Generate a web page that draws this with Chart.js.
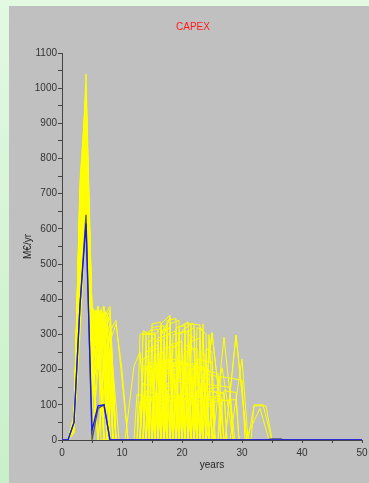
<!DOCTYPE html>
<html>
<head>
<meta charset="utf-8">
<script src="https://cdn.jsdelivr.net/npm/chart.js@4.4.0/dist/chart.umd.min.js"></script>
<style>
  html, body { margin: 0; padding: 0; width: 369px; height: 483px; overflow: hidden; }
  body { background: linear-gradient(#e2f9e2, #c8f0c8); position: relative; }
  #panel { position: absolute; left: 9px; top: 6px; width: 368px; height: 477px; background: #c0c0c0; }
  canvas { display: block; }
</style>
</head>
<body>
<div id="panel"><canvas id="capexChart" width="368" height="477"></canvas></div>
<script>
// Base case (blue) and median (dark) CAPEX profiles
const baseYears = [0, 1, 2, 3, 4, 5, 6, 7, 8, 50];
const baseCapex = [0, 0, 50, 383, 615, 27, 97, 100, 0, 0];
const medianYears = [0, 1, 2, 3, 4, 5, 6, 7, 8, 34, 35, 36.5, 37, 50];
const medianCapex = [0, 0, 50, 383, 640, 0, 90, 100, 0, 0, 3, 3, 0, 0];

// Scenario runs (yellow), [year, M€/yr]
const scenarioRuns = [
    [[0,0],[1,0],[2,50],[3,620],[4,1040],[5,360],[5.5,300],[6,340],[7,310],[7.5,0],[13,0],[13.5,300],[15.5,305],[16,0],[17,0],[17.5,120],[19.5,125],[20,0],[23,0],[25,305],[27,0]],
    [[0,0],[1,0],[2,40],[3,740],[4,980],[5,300],[6,370],[6.5,250],[7.5,330],[8.5,0],[14,0],[14.5,210],[17,215],[17.5,0],[19,0],[19.5,320],[21,336],[22,0]],
    [[0,0],[1,0],[2,60],[3,560],[4,940],[5,250],[6,0],[7,200],[8,310],[9,340],[11,0],[15,0],[15.5,120],[18,115],[18.5,0],[20,0],[20.5,210],[22.5,220],[23,0],[27.2,0],[29,298],[30.8,0]],
    [[0,0],[1,0],[2,30],[3,480],[4,900],[5,380],[5.5,360],[6,280],[7,0],[10.5,0],[12,210],[13,250],[14,0],[16,0],[16.5,330],[18,355],[18.5,0],[21,0],[21.5,130],[24,120],[24.5,0]],
    [[0,0],[1,0],[2,50],[3,700],[4,870],[5,200],[6,360],[7,380],[7.5,300],[8,0],[13.5,0],[14,140],[16,130],[16.5,0],[17,0],[17.5,220],[20,200],[20.5,0],[25.2,0],[27,292],[28.8,0]],
    [[0,0],[1,0],[2,40],[3,420],[4,820],[5,340],[5.5,370],[6.5,290],[7,350],[8,0],[12.5,0],[13,110],[15,115],[15.5,0],[18,0],[18.5,300],[21,310],[21.5,0],[22,0],[22.5,140],[26,150],[26.5,0]],
    [[0,0],[1,0],[2,70],[3,650],[4,800],[5,120],[6,300],[7,330],[8,250],[9,0],[14.5,0],[15,320],[17,325],[17.5,0],[18,0],[18.5,110],[22,120],[22.5,0]],
    [[0,0],[1,0],[2,50],[3,380],[4,760],[5,300],[6,200],[7,280],[8,360],[8.5,0],[13,0],[13.5,200],[15,210],[15.5,0],[16,0],[16.5,220],[19,230],[19.5,0],[23,0],[23.5,330],[24,0]],
    [[0,0],[1,0],[2,30],[3,530],[4,730],[5,260],[6,340],[7,0],[15,0],[15.5,300],[16.5,320],[17,0],[19.5,0],[20,130],[23.5,125],[24,0],[31,0],[32,97],[34,97],[35,0]],
    [[0,0],[1,0],[2,60],[3,600],[4,700],[5,0],[6,250],[7,370],[8,0],[14,0],[14.5,120],[17,110],[17.5,0],[20,0],[20.5,300],[22,320],[22.5,0],[24,0],[26.7,205],[28.5,0]],
    [[0,0],[1,0],[2,50],[3,350],[4,680],[5,350],[6,310],[7,220],[7.5,330],[9,0],[16,0],[16.5,210],[19,200],[19.5,0],[21,0],[21.5,110],[25,115],[25.5,0]],
    [[0,0],[1,0],[2,40],[3,460],[4,660],[5,280],[5.5,320],[6.5,370],[7.5,0],[13.5,0],[14,300],[15.5,300],[16,0],[17,0],[17.5,340],[19,345],[19.5,0],[22.5,0],[23,200],[26,190],[26.5,0]],
    [[0,0],[1,0],[2,20],[3,300],[4,640],[5,200],[6,0],[7,150],[8,300],[9.5,0],[15.5,0],[16,120],[20,125],[20.5,0],[21,0],[21.5,330],[23,327],[23.5,0]],
    [[0,0],[1,0],[2,50],[3,710],[4,920],[5,320],[6,380],[7,260],[8,0],[14,0],[14.5,220],[16.5,215],[17,0],[18.5,0],[19,110],[21,115],[21.5,0],[23,0],[23.5,160],[28,150],[28.5,0]],
    [[0,0],[1,0],[2,60],[3,500],[4,850],[5,150],[6,280],[7,340],[8,300],[9,0],[12,0],[12.5,130],[14.5,120],[15,0],[16.5,0],[17,300],[18,350],[18.5,0],[20,0],[20.5,220],[22,210],[22.5,0]],
    [[0,0],[1,0],[2,40],[3,580],[4,990],[5,370],[6,330],[6.5,0],[15,0],[15.5,210],[18,220],[18.5,0],[19,0],[19.5,120],[22.5,115],[23,0],[30.5,0],[33,90],[34.5,0]],
    [[0,0],[1,0],[2,30],[3,440],[4,780],[5,90],[6,320],[7,370],[8,340],[9,0],[13,0],[13.5,310],[15,300],[15.5,0],[16.5,0],[17,130],[19,125],[19.5,0],[20.5,0],[21,200],[24,205],[24.5,0]],
    [[0,0],[1,0],[2,50],[3,660],[4,720],[5,310],[6,250],[7,0],[14,0],[14.5,110],[16,120],[16.5,0],[18,0],[18.5,210],[21,215],[21.5,0],[22,0],[22.5,320],[23.5,310],[24,0]],
    [[0,0],[1,0],[2,40],[3,390],[4,890],[5,240],[6,350],[7,290],[7.5,0],[16,0],[16.5,310],[18,320],[18.5,0],[19,0],[19.5,220],[21.5,210],[22,0],[24.5,0],[25,120],[28,110],[28.5,0]],
    [[0,0],[1,0],[2,70],[3,720],[4,1000],[5,180],[6,360],[7.5,320],[8.5,0],[13.5,0],[14,200],[16,195],[16.5,0],[17.5,0],[18,330],[19.5,340],[20,0],[21,0],[21.5,110],[25,100],[25.5,0]],
    [[0,0],[1,0],[2,50],[3,510],[4,830],[5,300],[5.5,250],[6.5,330],[7,0],[15,0],[15.5,130],[17.5,140],[18,0],[19,0],[19.5,300],[20.5,310],[21,0],[23,0],[25,305],[27,0]],
    [[0,0],[1,0],[2,30],[3,620],[4,750],[5,360],[6,300],[7,360],[7.5,0],[12.5,0],[13,300],[14,305],[14.5,0],[16.5,0],[17,210],[20,220],[20.5,0],[21.5,0],[22,120],[26.5,125],[27,0]],
    [[0,0],[1,0],[2,60],[3,340],[4,690],[5,220],[6,270],[7,310],[8,0],[14.5,0],[15,330],[16.5,335],[17,0],[18,0],[18.5,115],[21,120],[21.5,0],[22,0],[22.5,230],[25,220],[25.5,0]],
    [[0,0],[1,0],[2,40],[3,470],[4,950],[5,340],[6,370],[7,0],[16,0],[16.5,200],[18.5,205],[19,0],[20,0],[20.5,330],[22,330],[22.5,0],[25,0],[25.5,110],[29,115],[29.5,0]],
    [[0,0],[1,0],[2,50],[3,690],[4,860],[5,270],[6,320],[7,280],[8,330],[8.5,0],[13,0],[13.5,120],[16,125],[16.5,0],[17,0],[17.5,300],[19,310],[19.5,0],[21,0],[21.5,200],[23.5,210],[24,0]],
    [[0,0],[1,0],[2,40],[3,550],[4,810],[5,0],[6,200],[7,350],[8,380],[9,0],[14,0],[14.5,310],[16,315],[16.5,0],[18.5,0],[19,120],[22,115],[22.5,0],[26,0],[26.5,180],[30,170],[30.5,0]],
    [[0,0],[1,0],[2,60],[3,410],[4,740],[5,330],[6,290],[6.5,370],[7.5,0],[15.5,0],[16,220],[18,230],[18.5,0],[19.5,0],[20,310],[21.5,330],[22,0],[24,0],[24.5,300],[25.5,0]],
    [[0,0],[1,0],[2,30],[3,600],[4,910],[5,210],[6,340],[7,0],[13.5,0],[14,115],[17,120],[17.5,0],[18,0],[18.5,220],[20.5,225],[21,0],[22,0],[22.5,140],[27,135],[27.5,0]],
    [[0,0],[1,0],[2,50],[3,520],[4,780],[5,380],[5.5,350],[6.5,300],[7.5,320],[8,0],[16,0],[16.5,300],[17.5,330],[18,0],[20,0],[20.5,120],[24,130],[24.5,0],[27.2,0],[29,298],[30.8,0]],
    [[0,0],[1,0],[2,40],[3,680],[4,960],[5,290],[6,360],[7,300],[7.5,0],[14.5,0],[15,200],[17,210],[17.5,0],[18.5,0],[19,320],[20.5,325],[21,0],[21.5,0],[22,210],[24.5,200],[25,0]],
    [[0,0],[1,0],[2,20],[3,360],[4,700],[5,130],[6,240],[7,310],[8,280],[9,330],[10,200],[11,0],[17,0],[17.5,110],[20,120],[20.5,0],[22.5,0],[23,320],[24,300],[24.5,0]],
    [[0,0],[1,0],[2,60],[3,570],[4,880],[5,350],[6,280],[7,0],[13,0],[13.5,210],[15,205],[15.5,0],[16,0],[16.5,300],[18,320],[18.5,0],[19,0],[19.5,130],[23,135],[23.5,0],[31.5,0],[32,100],[33.5,100],[35,0]],
    [[0,0],[1,0],[2,50],[3,640],[4,1010],[5,330],[6,350],[7,300],[8,0],[13.5,0],[14,250],[16,260],[16.5,0],[17,0],[17.5,160],[20,170],[20.5,0],[21,0],[21.5,280],[23,290],[23.5,0]],
    [[0,0],[1,0],[2,40],[3,490],[4,870],[5,260],[6,320],[7.5,360],[8,0],[14,0],[14.5,170],[16.5,180],[17,0],[17.5,0],[18,270],[20,280],[20.5,0],[22,0],[22.5,100],[25,95],[25.5,0]],
    [[0,0],[1,0],[2,60],[3,580],[4,820],[5,300],[5.5,280],[6.5,350],[7.5,260],[8.5,0],[15,0],[15.5,240],[17,250],[17.5,0],[18.5,0],[19,180],[21.5,170],[22,0],[23.5,0],[24,260],[25,250],[25.5,0]],
    [[0,0],[1,0],[2,30],[3,420],[4,760],[5,200],[6,380],[6.5,320],[7,0],[13,0],[13.5,160],[15.5,150],[16,0],[16.5,0],[17,260],[19.5,270],[20,0],[20.5,0],[21,150],[23,160],[23.5,0],[26,0],[27,140],[29,135],[29.5,0]],
    [[0,0],[1,0],[2,50],[3,700],[4,930],[5,280],[6,310],[7,340],[7.5,0],[14,0],[14.5,280],[15.5,290],[16,0],[16.5,0],[17,190],[19,185],[19.5,0],[20,0],[20.5,250],[22.5,260],[23,0]],
    [[0,0],[1,0],[2,40],[3,530],[4,800],[5,350],[6,260],[7,380],[8,0],[15,0],[15.5,100],[17,105],[17.5,0],[18,0],[18.5,260],[19.5,280],[20,0],[21.5,0],[22,180],[24.5,175],[25,0],[28,0],[30,230],[31,0]],
    [[0,0],[1,0],[2,60],[3,620],[4,900],[5,240],[6,300],[6.5,260],[7.5,350],[8.5,0],[13,0],[13.5,230],[14.5,240],[15,0],[15.5,0],[16,290],[18,300],[18.5,0],[19.5,0],[20,160],[23,165],[23.5,0]],
    [[0,0],[1,0],[2,40],[3,450],[4,720],[5,310],[6,340],[7,0],[16,0],[16.5,150],[19,155],[19.5,0],[20,0],[20.5,270],[22,260],[22.5,0],[23,0],[23.5,190],[26,180],[26.5,0]],
    [[0,0],[1,0],[2,50],[3,560],[4,970],[5,360],[5.5,310],[6.5,360],[7,300],[8,0],[14,0],[14.5,260],[16,270],[16.5,0],[17,0],[17.5,140],[19,150],[19.5,0],[20.5,0],[21,300],[22,290],[22.5,0],[24,0],[24.5,140],[27,130],[27.5,0]],
    [[0,0],[1,0],[2,30],[3,500],[4,840],[5,170],[6,290],[7,330],[8,370],[9,0],[15,0],[15.5,280],[17,285],[17.5,0],[18,0],[18.5,170],[20.5,165],[21,0],[22.5,0],[23,250],[24,240],[24.5,0]]
];

const axisFont = { family: "'Liberation Sans', Arial, sans-serif", size: 10 };

const ctx = document.getElementById('capexChart').getContext('2d');

const runDatasets = scenarioRuns.map((run, i) => ({
    label: 'Run ' + (i + 1),
    data: run.map(([x, y]) => ({ x: x, y: y })),
    borderColor: '#ffff00',
    borderWidth: 1,
    pointRadius: 0,
    fill: false,
    order: 2
}));

new Chart(ctx, {
    type: 'line',
    data: {
        datasets: [
            {
                label: 'Base case',
                data: baseYears.map((x, i) => ({ x: x, y: baseCapex[i] })),
                borderColor: '#1414ff',
                borderWidth: 1.3,
                pointRadius: 0,
                fill: false,
                order: 0
            },
            {
                label: 'Median',
                data: medianYears.map((x, i) => ({ x: x, y: medianCapex[i] })),
                borderColor: '#555555',
                borderWidth: 1.3,
                pointRadius: 0,
                fill: false,
                order: 1
            },
            ...runDatasets
        ]
    },
    options: {
        responsive: false,
        animation: false,
        events: [],
        layout: {
            padding: 0
        },
        plugins: {
            legend: { display: false },
            tooltip: { enabled: false },
            title: {
                display: true,
                text: 'CAPEX',
                color: '#ff1a1a',
                font: { family: axisFont.family, size: 10, weight: 'normal' },
                padding: { top: 15, bottom: 20 }
            }
        },
        scales: {
            x: {
                type: 'linear',
                min: 0,
                max: 50,
                ticks: {
                    stepSize: 5,
                    autoSkip: false,
                    maxRotation: 0,
                    padding: 4,
                    color: '#333',
                    font: axisFont,
                    callback: (v) => (v % 10 === 0 ? v : '')
                },
                grid: { drawOnChartArea: false, tickLength: 3, color: '#444' },
                border: { color: '#444', width: 1 },
                title: {
                    display: true,
                    text: 'years',
                    color: '#222',
                    font: axisFont,
                    padding: { top: 0, bottom: 12 }
                },
                afterFit: (scale) => { scale.height = 43; }
            },
            y: {
                min: 0,
                max: 1100,
                ticks: {
                    stepSize: 50,
                    autoSkip: false,
                    padding: 1,
                    color: '#333',
                    font: axisFont,
                    callback: (v) => (v % 100 === 0 ? v : '')
                },
                grid: { drawOnChartArea: false, tickLength: 4, color: '#444' },
                border: { color: '#444', width: 1 },
                title: {
                    display: true,
                    text: 'M€/yr',
                    color: '#222',
                    font: axisFont,
                    padding: { top: 13, bottom: 0 }
                },
                afterFit: (scale) => { scale.width = 53; }
            },
            // empty right-hand box, keeps the plot clear of the panel edge
            yRight: {
                position: 'right',
                min: 0,
                max: 1100,
                ticks: { display: false },
                grid: { display: false },
                border: { display: false },
                afterFit: (scale) => { scale.width = 15; }
            }
        }
    }
});
</script>
</body>
</html>
